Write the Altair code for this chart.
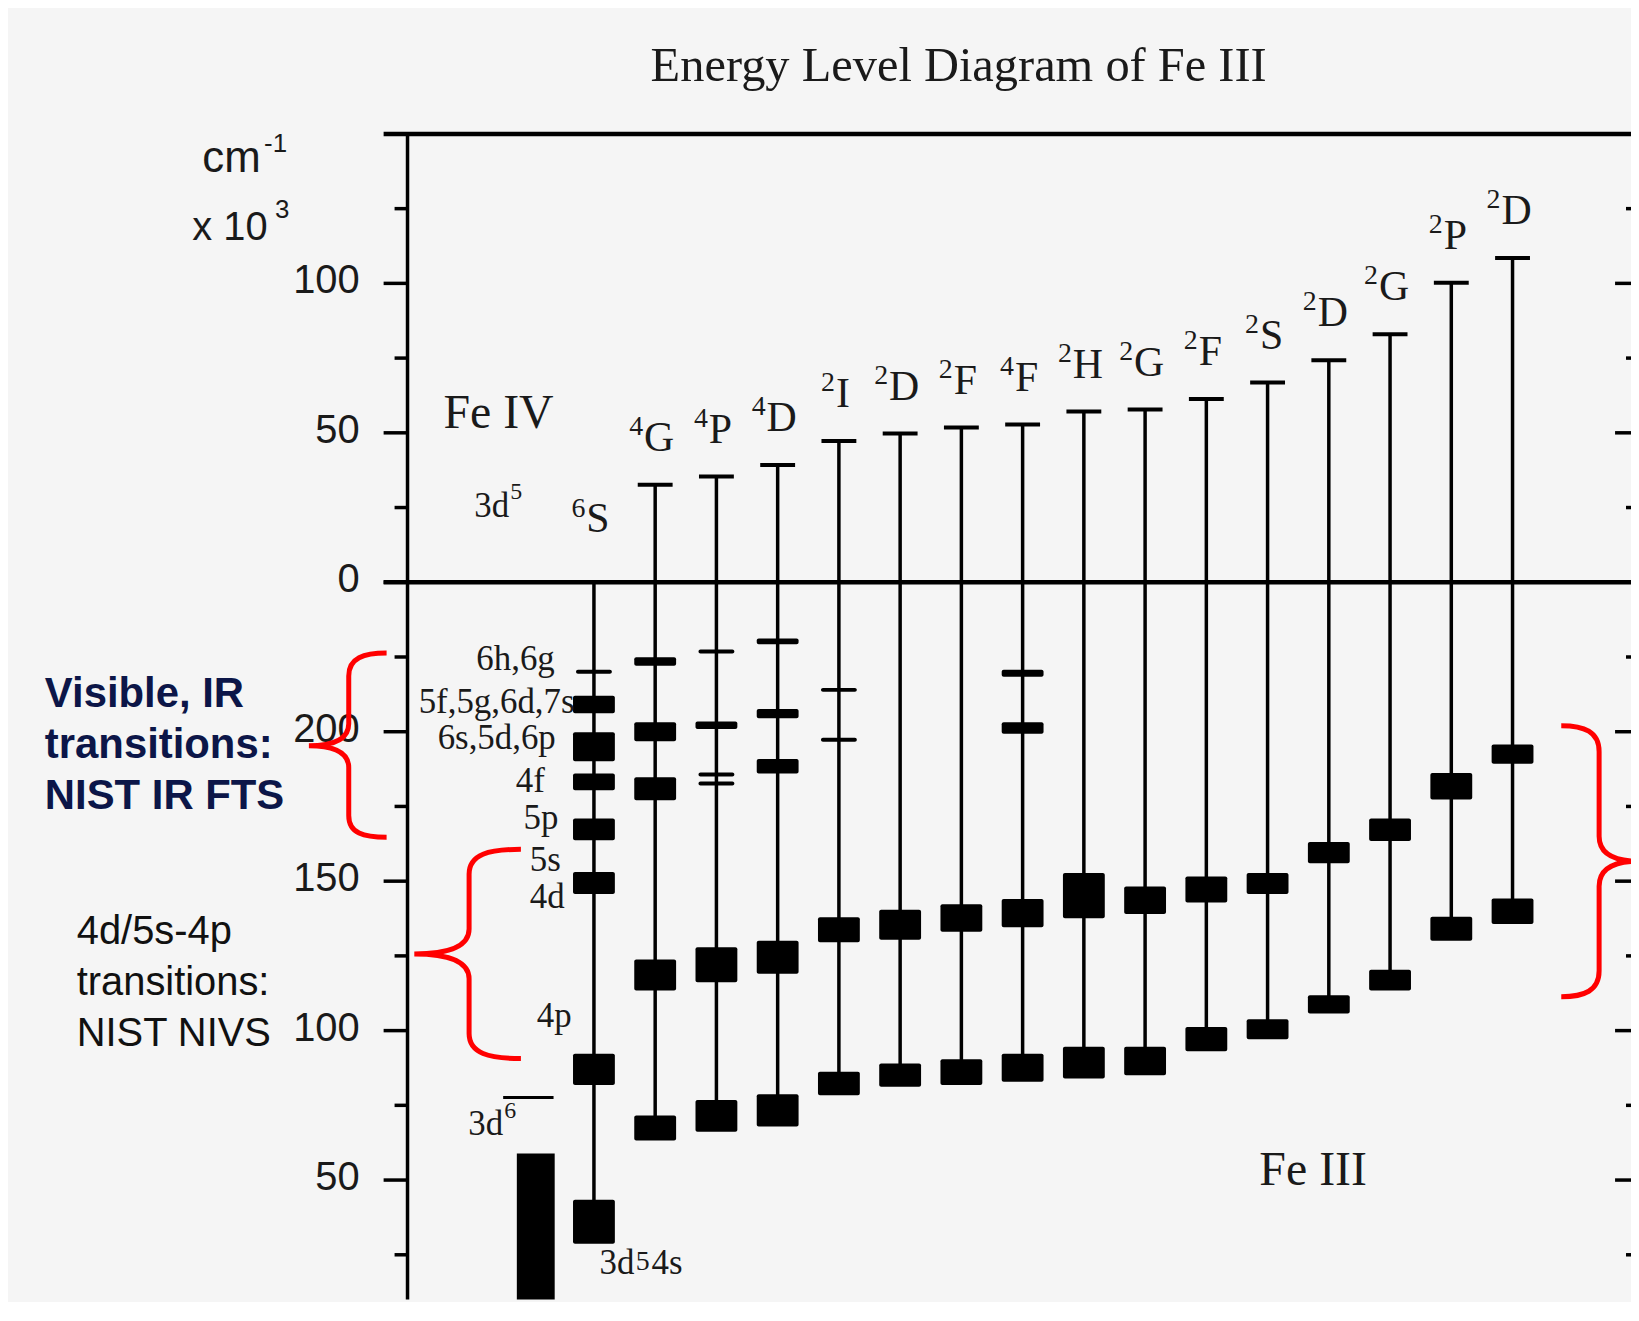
import altair as alt
import pandas as pd

# ---------------- data (energies in 10^3 cm-1) ----------------
TERM_MULT = ["6", "4", "4", "4", "2", "2", "2", "4", "2", "2", "2", "2", "2", "2", "2", "2"]
TERM_L = ["S", "G", "P", "D", "I", "D", "F", "F", "H", "G", "F", "S", "D", "G", "P", "D"]
# Fe IV parent terms (upper scale, above the Fe III ionisation limit)
PARENT_E = [0.0, 32.6, 35.4, 39.2, 47.3, 49.8, 51.8, 52.8, 57.1, 57.8, 61.3, 66.8, 74.3, 83.0, 100.2, 108.5]

# Fe III level on the lower scale that corresponds to the Fe IV ground level
IP_OFFSET = 250.0

# Fe III configuration blocks (column index, top energy, bottom energy)
BOX_COL = [0, 0, 0, 0, 0, 0, 0,
           1, 1, 1, 1, 1,
           2, 2, 2,
           3, 3, 3, 3, 3,
           4, 4,
           5, 5,
           6, 6,
           7, 7, 7, 7,
           8, 8,
           9, 9,
           10, 10,
           11, 11,
           12, 12,
           13, 13,
           14, 14,
           15, 15]
BOX_HI = [212.0, 199.8, 186.0, 171.0, 153.1, 92.3, 43.4,
          224.9, 203.2, 184.8, 123.8, 71.6,
          203.4, 127.9, 76.8,
          231.2, 207.6, 190.9, 130.1, 78.7,
          137.9, 86.2,
          140.4, 89.0,
          142.3, 90.4,
          220.7, 203.2, 144.0, 92.3,
          152.7, 94.6,
          148.2, 94.6,
          151.6, 101.2,
          152.7, 103.8,
          163.1, 111.8,
          171.0, 120.4,
          186.2, 138.1,
          195.7, 144.2]
BOX_LO = [206.2, 190.1, 180.4, 163.7, 145.7, 81.8, 28.7,
          222.1, 196.8, 177.1, 113.4, 63.2,
          200.9, 116.2, 66.2,
          229.3, 204.5, 186.0, 119.0, 67.9,
          129.6, 78.4,
          130.4, 81.2,
          133.1, 81.8,
          218.4, 199.3, 134.6, 82.9,
          137.6, 84.0,
          139.0, 85.1,
          142.9, 93.1,
          145.7, 97.1,
          156.0, 105.7,
          163.4, 113.4,
          177.3, 130.1,
          189.3, 135.7]

# single levels drawn as thin lines
LINE_COL = [0, 2, 2, 2, 4, 4]
LINE_E = [220.1, 226.8, 185.7, 182.7, 214.0, 197.3]

# 3d6 configuration of Fe III
D6_COL = -0.95
D6_HI = 58.9
D6_LO = 0.0
D6_LINE_E = 77.6

# labels of the Fe III 3d5 nl configurations (6S column)
SUB_TEXT = ["6h,6g", "5f,5g,6d,7s", "6s,5d,6p", "4f", "5p", "5s", "4d", "4p"]
SUB_E = [220.7, 206.3, 194.2, 179.7, 167.3, 153.4, 141.0, 101.2]
SUB_I = [-0.639, -0.316, -0.623, -0.801, -0.579, -0.542, -0.478, -0.365]

# axis: labelled positions (upper scale >= 0, lower scale below 0) and all tick positions
AXIS_LABELS = [100, 50, 0, -50, -100, -150, -200]
TICKS = list(range(-225, 150, 25))

# ---------------- layout ----------------
W, H = 1228, 1170
XMIN, XMAX = -2.9627, 16.853
YMIN, YMAX = -240.0, 150.0
PX_X = W / (XMAX - XMIN)
PX_Y = H / (YMAX - YMIN)

SERIF = "Liberation Serif"
SANS = "Liberation Sans"
INK = "#1a1a1a"
RED = "#ff0000"
NAVY = "#0c1648"

xs = alt.Scale(domain=[XMIN, XMAX], nice=False, zero=False)
ys = alt.Scale(domain=[YMIN, YMAX], nice=False, zero=False)


def X(f):
    return alt.X(f, type="quantitative", scale=xs, axis=None)


def Y(f):
    return alt.Y(f, type="quantitative", scale=ys, axis=None)


# ---------------- frames ----------------
cols = pd.DataFrame({"i": list(range(len(TERM_L))), "mult": TERM_MULT, "L": TERM_L, "pE": PARENT_E})
boxes = pd.DataFrame({"i": BOX_COL, "hi": BOX_HI, "lo": BOX_LO})
boxes["v1"] = boxes["hi"] - IP_OFFSET
boxes["v2"] = boxes["lo"] - IP_OFFSET
bottom = ((boxes["v1"] + boxes["v2"]) / 2).groupby(boxes["i"]).min()
cols["top"] = cols["pE"]
cols["bot"] = cols["i"].map(bottom)

LBL = 42   # term letter font size
SUP = 28   # superscript font size
half = {"S": 0.556, "G": 0.722, "P": 0.556, "D": 0.722, "I": 0.333, "F": 0.556, "H": 0.722}
cols["lx"] = cols["i"] + 4 / PX_X
cols["sx"] = cols["i"] + cols["L"].map(lambda s: (3 - half[s] * LBL / 2) / PX_X)
cols["lv"] = cols["pE"] + [50 / PX_Y if k == 0 else 34 / PX_Y for k in cols["i"]]
cols["sv"] = cols["lv"] + 16 / PX_Y
parents = cols[cols["i"] > 0]

lines = pd.DataFrame({"i": LINE_COL, "v": [e - IP_OFFSET for e in LINE_E]})
d6 = pd.DataFrame({"i": [D6_COL], "v1": [D6_HI - IP_OFFSET], "v2": [D6_LO - IP_OFFSET],
                   "a": [D6_COL - 33 / PX_X], "b": [D6_COL + 18 / PX_X], "lv": [D6_LINE_E - IP_OFFSET]})
subs = pd.DataFrame({"t": SUB_TEXT, "i": SUB_I, "v": [e - IP_OFFSET for e in SUB_E]})
frame = pd.DataFrame({"v": [YMAX, 0.0]})
tk = pd.DataFrame({"v": TICKS})
long_t = tk[tk["v"] % 50 == 0]
short_t = tk[tk["v"] % 50 != 0]
axl = pd.DataFrame({"v": AXIS_LABELS})
axl["t"] = [str(int(v if v >= 0 else v + IP_OFFSET)) for v in AXIS_LABELS]
one = pd.DataFrame({"k": [0]})

layers = []

# axis & frame lines
layers.append(alt.Chart(one).mark_rule(color="black", strokeWidth=3.5).encode(
    x=alt.value(0), y=alt.value(0), y2=alt.value(H)))
layers.append(alt.Chart(frame).mark_rule(color="black", strokeWidth=4.5).encode(
    y=Y("v"), x=alt.value(-24), x2=alt.value(W)))
layers.append(alt.Chart(long_t).mark_rule(color="black", strokeWidth=3.5).encode(
    y=Y("v"), x=alt.value(-24), x2=alt.value(0)))
layers.append(alt.Chart(short_t).mark_rule(color="black", strokeWidth=3.5).encode(
    y=Y("v"), x=alt.value(-13), x2=alt.value(0)))
layers.append(alt.Chart(long_t).mark_rule(color="black", strokeWidth=3.5).encode(
    y=Y("v"), x=alt.value(W - 16), x2=alt.value(W)))
layers.append(alt.Chart(short_t).mark_rule(color="black", strokeWidth=3.5).encode(
    y=Y("v"), x=alt.value(W - 5), x2=alt.value(W)))
layers.append(alt.Chart(axl).mark_text(font=SANS, fontSize=40, color=INK, align="right",
                                       baseline="middle", dy=-2).encode(
    y=Y("v"), x=alt.value(-48), text="t:N"))

# vertical level ladders
layers.append(alt.Chart(cols).mark_rule(color="black", strokeWidth=3.5).encode(
    x=X("i"), y=Y("top"), y2="bot"))
# parent bars
layers.append(alt.Chart(parents).mark_tick(orient="horizontal", size=35, thickness=4,
                                           color="black", opacity=1).encode(x=X("i"), y=Y("top")))
# configuration boxes
layers.append(alt.Chart(boxes).mark_bar(size=42, color="black", cornerRadius=2).encode(
    x=X("i"), y=Y("v1"), y2="v2"))
layers.append(alt.Chart(lines).mark_tick(orient="horizontal", size=36, thickness=4,
                                         color="black", opacity=1, cornerRadius=2).encode(x=X("i"), y=Y("v")))
# 3d6
layers.append(alt.Chart(d6).mark_bar(size=38, color="black", clip=True).encode(
    x=X("i"), y=Y("v1"), y2="v2"))
layers.append(alt.Chart(d6).mark_rule(color="black", strokeWidth=3).encode(
    x=X("a"), x2="b", y=Y("lv")))

# term labels
layers.append(alt.Chart(cols).mark_text(font=SERIF, fontSize=LBL, color=INK, align="center",
                                        baseline="alphabetic").encode(x=X("lx"), y=Y("lv"), text="L:N"))
layers.append(alt.Chart(cols).mark_text(font=SERIF, fontSize=SUP, color=INK, align="right",
                                        baseline="alphabetic").encode(x=X("sx"), y=Y("sv"), text="mult:N"))
# configuration labels
layers.append(alt.Chart(subs).mark_text(font=SERIF, fontSize=35, color=INK, align="right",
                                        baseline="alphabetic").encode(x=X("i"), y=Y("v"), text="t:N"))


def note(txt, px, py, size, font=SERIF, color=INK, weight="normal", lh=None):
    kw = dict(font=font, fontSize=size, color=color, align="left", baseline="alphabetic", fontWeight=weight)
    if lh:
        kw.update(lineBreak="\n", lineHeight=lh)
    return alt.Chart(one).mark_text(**kw).encode(x=alt.value(px), y=alt.value(py), text=alt.value(txt))


layers += [
    note("Energy Level Diagram of Fe III", 244, -53.5, 48.6),
    note("Fe IV", 36, 295, 48),
    note("Fe III", 855, 1055, 48),
    note("3d", 67, 384.6, 35), note("5", 103, 366, 24),
    note("3d", 61, 1004.7, 35), note("6", 97, 988, 24),
    note("3d", 192.7, 1144.7, 35), note("5", 229, 1140, 28), note("4s", 245, 1144.7, 35),
    note("cm", -206, 38, 44, font=SANS), note("-1", -144, 18, 26, font=SANS),
    note("x 10", -216, 106.3, 40, font=SANS), note("3", -133, 84.7, 26, font=SANS),
    note("Visible, IR\ntransitions:\nNIST IR FTS", -364, 575.3, 42, font=SANS, color=NAVY,
         weight="bold", lh=51),
    note("4d/5s-4p\ntransitions:\nNIST NIVS", -332, 813, 40, font=SANS, color="#111111", lh=51),
]

# red curly brackets (shape in pixels, anchored at the tip)
BRACE_L1 = "M78,-93 C55,-93 40,-88 40,-70 L40,-22 C40,-6 25,0 0,0 C25,0 40,6 40,22 L40,70 C40,88 55,92 78,92"
BRACE_L2 = ("M107,-105 C75,-105 55,-100 55,-80 L55,-25 C55,-7 35,0 0,0 C35,0 55,7 55,25 "
            "L55,80 C55,100 75,105 107,105")
BRACE_R = ("M-78,-136 C-55,-136 -40,-130 -40,-110 L-40,-25 C-40,-7 -25,0 0,0 C-25,0 -40,7 -40,25 "
           "L-40,110 C-40,130 -55,136 -78,136")
for path, px, py in [(BRACE_L1, -99, 614), (BRACE_L2, 6.8, 823), (BRACE_R, 1236, 730)]:
    layers.append(alt.Chart(one).mark_point(shape=path, size=4, filled=False, stroke=RED,
                                            strokeWidth=5, opacity=1).encode(
        x=alt.value(px), y=alt.value(py)))

chart = alt.layer(*layers).properties(
    width=W, height=H,
    autosize=alt.AutoSizeParams(type="none"),
    padding={"left": 401, "top": 124, "right": 0, "bottom": 0},
    background="#f5f5f5",
).configure_view(stroke=None)

chart.save("out.html", embed_options={"renderer": "svg", "actions": False})
